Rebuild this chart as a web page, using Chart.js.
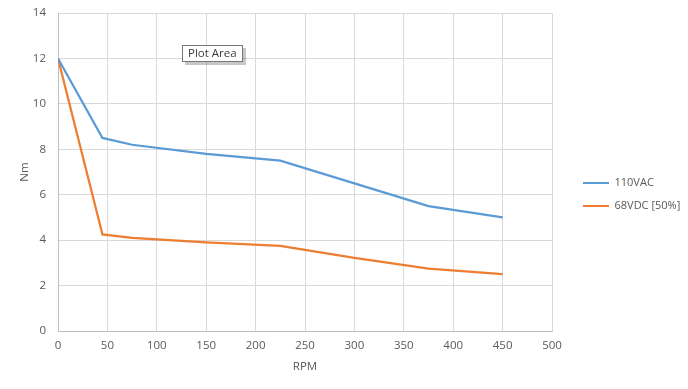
<!DOCTYPE html>
<html><head><meta charset="utf-8">
<script src="https://cdn.jsdelivr.net/npm/chart.js@4/dist/chart.umd.min.js"></script>
<style>html,body{margin:0;padding:0;background:#fff;overflow:hidden}#wrap{width:688px;height:389px;position:relative}</style>
</head><body><div id="wrap"><canvas id="c"></canvas></div>
<script>
const rpm = [0, 45, 75, 150, 225, 300, 375, 450];
const vac110 = [12, 8.5, 8.2, 7.8, 7.5, 6.5, 5.5, 5.0];
const vdc68 = [12, 4.25, 4.1, 3.9, 3.75, 3.22, 2.75, 2.5];
const seriesNames = ['110VAC', '68VDC [50%]'];
const xTitle = 'RPM';
const yTitle = 'Nm';
const FONT = "'Open Sans', 'DejaVu Sans', sans-serif";
const FS = 11.5;
const LFS = 11;
const GREY = '#595959';

const toPts = (xs, ys) => xs.map((x, i) => ({x, y: ys[i]}));

const tipPlugin = {
  id: 'tip',
  afterDraw(chart) {
    const ctx = chart.ctx;
    ctx.save();
    const x = 182, y = 45, w = 61, h = 17;
    ctx.fillStyle = 'rgba(0,0,0,0.22)';
    ctx.fillRect(x + 3, y + 3, w, h);
    ctx.fillStyle = '#fff';
    ctx.fillRect(x, y, w, h);
    ctx.strokeStyle = '#767676';
    ctx.lineWidth = 1;
    ctx.strokeRect(x + 0.5, y + 0.5, w - 1, h - 1);
    ctx.fillStyle = '#3c3c3c';
    ctx.font = "11.5px " + FONT;
    ctx.textBaseline = 'middle';
    ctx.fillText('Plot Area', x + 6, y + h / 2 + 0.5);
    ctx.restore();
  }
};

// legend box: fixed width, items shifted right to leave a gap after the plot
const LEG_WIDTH = 136, LEG_SHIFT = 19, LEG_DY = 0;
const legendGapPlugin = {
  id: 'legendGap',
  afterInit(chart) {
    const lg = chart.legend;
    if (!lg || lg._gapPatched) return;
    lg._gapPatched = true;
    const fit = lg.fit, draw = lg.draw;
    lg.fit = function () { fit.apply(this, arguments); this.width = LEG_WIDTH; };
    lg.draw = function () {
      const ctx = this.ctx; ctx.save(); ctx.translate(LEG_SHIFT, LEG_DY);
      draw.apply(this, arguments); ctx.restore();
    };
  }
};

new Chart(document.getElementById('c'), {
  type: 'line',
  data: {
    datasets: [
      {label: seriesNames[0], data: toPts(rpm, vac110), borderColor: '#5B9BD5', backgroundColor: '#5B9BD5', borderWidth: 2.25, pointRadius: 0, tension: 0},
      {label: seriesNames[1], data: toPts(rpm, vdc68), borderColor: '#ED7D31', backgroundColor: '#ED7D31', borderWidth: 2.25, pointRadius: 0, tension: 0}
    ]
  },
  options: {
    responsive: true,
    maintainAspectRatio: false,
    animation: false,
    layout: {padding: 0},
    plugins: {
      tooltip: {enabled: false},
      legend: {
        position: 'right',
        labels: {
          color: GREY,
          font: {family: FONT, size: LFS},
          boxWidth: 26,
          boxHeight: 2,
          padding: 12,
          generateLabels(chart) {
            return chart.data.datasets.map((ds, i) => ({
              text: ds.label, fillStyle: ds.borderColor, strokeStyle: ds.borderColor,
              lineWidth: 0, fontColor: GREY, datasetIndex: i, hidden: false
            }));
          }
        }
      }
    },
    scales: {
      x: {
        type: 'linear', min: 0, max: 500,
        afterFit(s) { s.height = 58; },
        ticks: {stepSize: 50, color: GREY, font: {family: FONT, size: FS}, padding: 8},
        grid: {color: '#d9d9d9', drawTicks: false},
        border: {color: '#bfbfbf'},
        title: {display: true, text: xTitle, color: GREY, font: {family: FONT, size: FS}, padding: {top: 0, bottom: 15}}
      },
      y: {
        min: 0, max: 14,
        afterFit(s) { s.width = 58; s.paddingTop = 13; s.paddingBottom = 0; },
        ticks: {stepSize: 2, color: GREY, font: {family: FONT, size: FS}, padding: 12},
        grid: {color: '#d9d9d9', drawTicks: false},
        border: {color: '#bfbfbf'},
        title: {display: true, text: yTitle, color: GREY, font: {family: FONT, size: FS}, padding: {top: 18, bottom: 0}}
      }
    }
  },
  plugins: [tipPlugin, legendGapPlugin]
});
</script></body></html>
